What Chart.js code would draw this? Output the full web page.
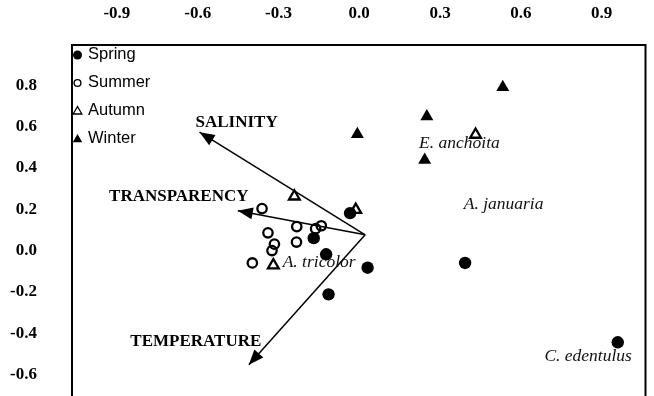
<!DOCTYPE html>
<html>
<head>
<meta charset="utf-8">
<script src="https://cdn.jsdelivr.net/npm/chart.js@4.4.1/dist/chart.umd.min.js"></script>
<style>
  html, body { margin: 0; padding: 0; background: #fff; overflow: hidden; }
  canvas { display: block; }
</style>
</head>
<body>
<canvas id="biplot" width="654" height="396"></canvas>
<script>
// Axis tick values
const xTicks = [-0.9, -0.6, -0.3, 0.0, 0.3, 0.6, 0.9];
const yTicks = [0.8, 0.6, 0.4, 0.2, 0.0, -0.2, -0.4, -0.6];

// Sample scores by season (axis 1 = x, axis 2 = y)
const seasons = ['Spring', 'Summer', 'Autumn', 'Winter'];
const springX = [-0.034, -0.169, -0.123, 0.031, -0.114, 0.393, 0.960];
const springY = [0.181, 0.060, -0.018, -0.083, -0.212, -0.060, -0.444];
const summerX = [-0.361, -0.232, -0.162, -0.141, -0.339, -0.315, -0.324, -0.233, -0.397];
const summerY = [0.203, 0.116, 0.106, 0.120, 0.086, 0.031, 0.000, 0.041, -0.060];
const autumnX = [-0.241, -0.013, -0.319, 0.432];
const autumnY = [0.262, 0.197, -0.071, 0.561];
const winterX = [0.533, 0.251, 0.243, -0.007];
const winterY = [0.790, 0.649, 0.438, 0.563];

// Environmental vectors (common origin, tips)
const envVars = ['SALINITY', 'TRANSPARENCY', 'TEMPERATURE'];
const envOrigin = [0.022, 0.076];
const envX = [-0.593, -0.451, -0.410];
const envY = [0.573, 0.193, -0.553];

// Species scores
const species = ['E. anchoita', 'A. januaria', 'A. tricolor', 'C. edentulus'];
const speciesX = [0.372, 0.536, -0.149, 0.850];
const speciesY = [0.517, 0.222, -0.059, -0.512];

const zip = (xs, ys) => xs.map((x, i) => ({ x, y: ys[i] }));

const SERIF = '"Liberation Serif", "Times New Roman", serif';
const SANS = '"Liberation Sans", Arial, sans-serif';

const seasonStyles = [
  { pointStyle: 'circle',   radius: 6.2, fill: true,  borderWidth: 0,   legendRadius: 4.5, legendBorder: 0 },
  { pointStyle: 'circle',   radius: 4.7, fill: false, borderWidth: 2.3, legendRadius: 3.4, legendBorder: 1.4 },
  { pointStyle: 'triangle', radius: 6.2, fill: false, borderWidth: 2.3, legendRadius: 5,   legendBorder: 1.3 },
  { pointStyle: 'triangle', radius: 7.5, fill: true,  borderWidth: 0,   legendRadius: 5.5, legendBorder: 0 }
];
const seasonData = [zip(springX, springY), zip(summerX, summerY), zip(autumnX, autumnY), zip(winterX, winterY)];

const datasets = seasons.map((name, i) => {
  const st = seasonStyles[i];
  return {
    label: name,
    data: seasonData[i],
    showLine: false,
    pointStyle: st.pointStyle,
    pointRadius: st.radius,
    pointBorderWidth: st.borderWidth,
    pointBorderColor: '#000',
    pointBackgroundColor: st.fill ? '#000' : 'rgba(0,0,0,0)',
    legendStyle: st
  };
});

// Vector shafts as two-point lines
envVars.forEach((name, i) => {
  datasets.push({
    label: name,
    data: [{ x: envOrigin[0], y: envOrigin[1] }, { x: envX[i], y: envY[i] }],
    showLine: true,
    borderColor: '#000',
    borderWidth: 1.5,
    pointRadius: 0,
    fill: false
  });
});

// Label offsets (px) from each vector tip
const envLabelOffsets = [[37, -10], [-59, -14], [-53, -23]];

function drawMarker(ctx, style, r, bw, x, y) {
  ctx.save();
  ctx.beginPath();
  if (style === 'circle') {
    ctx.arc(x, y, r, 0, Math.PI * 2);
  } else {
    for (let k = 0; k < 3; k++) {
      const a = k * 2 * Math.PI / 3;
      const px = x + Math.sin(a) * r, py = y - Math.cos(a) * r;
      if (k === 0) ctx.moveTo(px, py); else ctx.lineTo(px, py);
    }
    ctx.closePath();
  }
  if (bw > 0) {
    ctx.lineWidth = bw;
    ctx.strokeStyle = '#000';
    ctx.stroke();
  } else {
    ctx.fillStyle = '#000';
    ctx.fill();
  }
  ctx.restore();
}

const biplotDecor = {
  id: 'biplotDecor',
  afterDatasetsDraw(chart) {
    const { ctx, chartArea: ca, scales: { x, y } } = chart;
    ctx.save();

    // Frame (open at the bottom edge of the canvas)
    ctx.strokeStyle = '#000';
    ctx.lineWidth = 2;
    ctx.beginPath();
    ctx.moveTo(ca.left, chart.height + 2);
    ctx.lineTo(ca.left, ca.top);
    ctx.lineTo(ca.right, ca.top);
    ctx.lineTo(ca.right, chart.height + 2);
    ctx.stroke();

    // Arrowheads and vector labels
    const ox = x.getPixelForValue(envOrigin[0]);
    const oy = y.getPixelForValue(envOrigin[1]);
    envVars.forEach((name, i) => {
      const tx = x.getPixelForValue(envX[i]);
      const ty = y.getPixelForValue(envY[i]);
      const ang = Math.atan2(ty - oy, tx - ox);
      const len = 15, half = 6;
      const bx = tx - Math.cos(ang) * len, by = ty - Math.sin(ang) * len;
      ctx.beginPath();
      ctx.moveTo(tx, ty);
      ctx.lineTo(bx + Math.sin(ang) * half, by - Math.cos(ang) * half);
      ctx.lineTo(bx - Math.sin(ang) * half, by + Math.cos(ang) * half);
      ctx.closePath();
      ctx.fillStyle = '#000';
      ctx.fill();

      ctx.font = 'bold 17px ' + SERIF;
      ctx.textAlign = 'center';
      ctx.textBaseline = 'middle';
      ctx.fillText(name, tx + envLabelOffsets[i][0], ty + envLabelOffsets[i][1]);
    });

    // Species names
    ctx.font = 'italic 17.5px ' + SERIF;
    ctx.textAlign = 'center';
    ctx.textBaseline = 'middle';
    ctx.fillStyle = '#111';
    species.forEach((name, i) => {
      ctx.fillText(name, x.getPixelForValue(speciesX[i]), y.getPixelForValue(speciesY[i]));
    });

    // Season key in the upper-left corner
    ctx.font = '16.5px ' + SANS;
    ctx.textAlign = 'left';
    chart.data.datasets.filter(d => d.legendStyle).forEach((d, i) => {
      const ly = ca.top + 9 + i * 28;
      const st = d.legendStyle;
      drawMarker(ctx, st.pointStyle, st.legendRadius, st.legendBorder, ca.left + 5.5, ly + (st.pointStyle === 'triangle' ? 1.5 : 1));
      ctx.fillStyle = '#000';
      ctx.fillText(d.label, ca.left + 16, ly);
    });

    ctx.restore();
  }
};

const tickFont = { family: SERIF, size: 17, weight: 'bold' };

new Chart(document.getElementById('biplot'), {
  type: 'scatter',
  data: { datasets },
  options: {
    responsive: false,
    animation: false,
    events: [],
    layout: { padding: { left: 0, right: 7, top: 0, bottom: 0 } },
    plugins: { legend: { display: false }, tooltip: { enabled: false } },
    scales: {
      x: {
        type: 'linear',
        position: 'top',
        min: -1.0667,
        max: 1.063,
        grid: { display: false },
        border: { display: false },
        afterBuildTicks: s => { s.ticks = xTicks.map(v => ({ value: v })); },
        afterFit: s => { s.height = 45; s.paddingLeft = 0; s.paddingRight = 0; },
        ticks: { padding: 13, color: '#000', font: tickFont, callback: v => Number(v).toFixed(1) }
      },
      y: {
        type: 'linear',
        position: 'left',
        min: -0.663,
        max: 0.995,
        grid: { display: false },
        border: { display: false },
        afterBuildTicks: s => { s.ticks = yTicks.map(v => ({ value: v })); },
        afterFit: s => { s.width = 72; s.paddingTop = 0; s.paddingBottom = 0; },
        ticks: { padding: 27, color: '#000', font: tickFont, callback: v => Number(v).toFixed(1) }
      }
    }
  },
  plugins: [biplotDecor]
});
</script>
</body>
</html>
